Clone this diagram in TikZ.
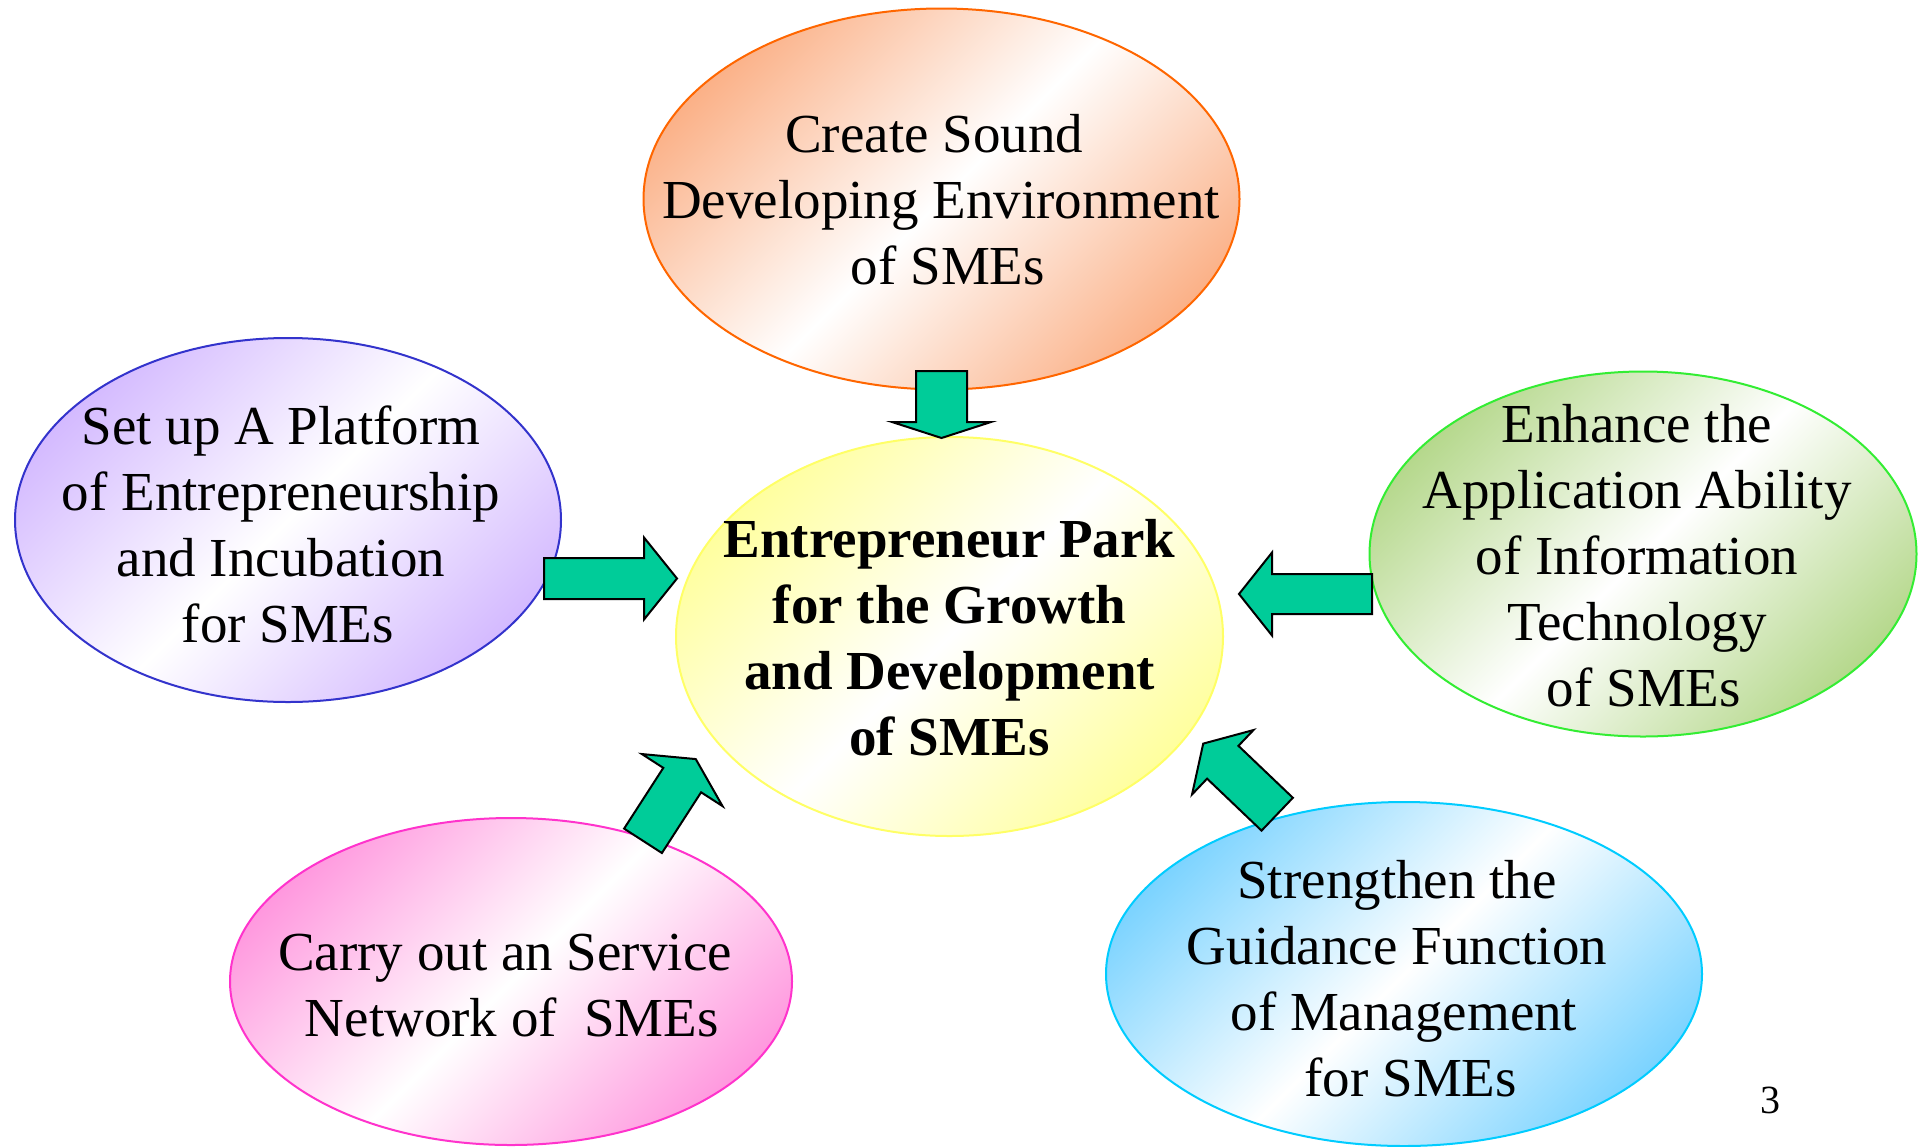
\documentclass[tikz,border=0pt]{standalone}
\usepackage{fontspec}
\setmainfont{Liberation Serif}
\usetikzlibrary{shapes.geometric}

\definecolor{arrowgreen}{rgb}{0,0.8,0.6}
\definecolor{orangeline}{rgb}{1,0.4,0}
\definecolor{orangefill}{rgb}{0.98,0.64,0.45}
\definecolor{purpleline}{rgb}{0.2,0.2,0.8}
\definecolor{purplefill}{rgb}{0.8,0.68,1}
\definecolor{greenline}{rgb}{0.2,0.93,0.2}
\definecolor{greenfill}{rgb}{0.66,0.82,0.47}
\definecolor{pinkline}{rgb}{1,0.2,0.8}
\definecolor{pinkfill}{rgb}{1,0.53,0.85}
\definecolor{blueline}{rgb}{0,0.8,1}
\definecolor{bluefill}{rgb}{0.4,0.8,1}
\definecolor{yellowline}{rgb}{1,1,0.4}
\definecolor{yellowfill}{rgb}{1,1,0.55}
\colorlet{bubblefill}{white}

% colour - white - colour, across the diagonal
\pgfdeclareverticalshading[bubblefill]{mirror}{100bp}{color(0bp)=(bubblefill); color(20bp)=(bubblefill);
    color(50bp)=(white); color(80bp)=(bubblefill); color(100bp)=(bubblefill)}

% tail, tip, half shaft, half head, head length
\newcommand{\blockarrow}[5]{%
    \path (#1); \pgfgetlastxy{\ax}{\ay}
    \path (#2); \pgfgetlastxy{\bx}{\by}
    \pgfmathsetmacro\arrlen{veclen(\bx-\ax,\by-\ay)}
    \pgfmathsetmacro\arrang{atan2(\by-\ay,\bx-\ax)}
    \begin{scope}[shift={(#1)}, rotate=\arrang]
        \draw[arrowbody] (0pt,-#3pt) -- ({\arrlen pt-#5pt},-#3pt) -- ({\arrlen pt-#5pt},-#4pt)
            -- (\arrlen pt,0pt) -- ({\arrlen pt-#5pt},#4pt) -- ({\arrlen pt-#5pt},#3pt) -- (0pt,#3pt) -- cycle;
    \end{scope}}
\newcommand{\leadgap}{\hspace*{.25em}}

\begin{document}
\begin{tikzpicture}[x=1pt, y=-1pt,
    bubble/.style 2 args={ellipse, draw=#1, line width=2pt, /utils/exec={\colorlet{bubblefill}{#2}}, shading=mirror, shading angle=45},
    bubbletext/.style={align=center, inner sep=0pt, font=\fontsize{55}{66}\selectfont},
    arrowbody/.style={draw=black, line width=2pt, fill=arrowgreen, line join=miter}] %5 goals
            \useasboundingbox[fill=white] (0,0) rectangle (1921,1146);

            \node[bubble={orangeline}{orangefill}, minimum width=596pt, minimum height=381pt] (top) at (941.5,199) {};
            \node[bubble={purpleline}{purplefill}, minimum width=546pt, minimum height=364pt] (plat) at (288,520) {};
            \node[bubble={greenline}{greenfill}, minimum width=547pt, minimum height=365pt] (info) at (1643,554) {};
            \node[bubble={yellowline}{yellowfill}, minimum width=547pt, minimum height=399pt] (hub) at (949.5,636.5) {};
            \node[bubble={pinkline}{pinkfill}, minimum width=562pt, minimum height=327pt] (serv) at (511,981.5) {};
            \node[bubble={blueline}{bluefill}, minimum width=596pt, minimum height=344pt] (guide) at (1404,974) {};

            \node[bubbletext] (toptext) at (941,200) {Create Sound\leadgap\mbox{}\\Developing Environment\\\leadgap of SMEs};
            \node[bubbletext] (plattext) at (281,524) {Set up A Platform\\of Entrepreneurship\\and Incubation\\\leadgap for SMEs};
            \node[bubbletext] (infotext) at (1637,556) {Enhance the\\Application Ability\\of Information\\Technology\\\leadgap of SMEs};
            \node[bubbletext, font=\fontsize{55}{66}\selectfont\bfseries] (hubtext) at (949.5,638) {Entrepreneur Park\\for the Growth\\and Development\\of SMEs};
            \node[bubbletext] (servtext) at (505,986) {Carry out an Service\\\leadgap Network of\ \ SMEs};
            \node[bubbletext] (guidetext) at (1397,979) {Strengthen the\\Guidance Function\\\leadgap of Management\\\leadgap\leadgap for SMEs};

            \coordinate (topout) at (941.5,371);
            \coordinate (hubn) at (941.5,438);
            \coordinate (platout) at (544,578.5);
            \coordinate (hubw) at (677,578.5);
            \coordinate (infoout) at (1372,594);
            \coordinate (hube) at (1239,594);
            \coordinate (servout) at (643,840.8);
            \coordinate (hubsw) at (695.8,759);
            \coordinate (guideout) at (1277.2,814.2);
            \coordinate (hubse) at (1203,743.4);

            \blockarrow{topout}{hubn}{25.5}{49.5}{16}
            \blockarrow{platout}{hubw}{20.5}{41}{33}
            \blockarrow{infoout}{hube}{20}{41.5}{33}
            \blockarrow{servout}{hubsw}{22.5}{48}{25}
            \blockarrow{guideout}{hubse}{22.7}{44.5}{27}

            \node[font=\fontsize{40}{48}\selectfont] (pagenum) at (1770,1100) {3};
        \end{tikzpicture}
\end{document}
